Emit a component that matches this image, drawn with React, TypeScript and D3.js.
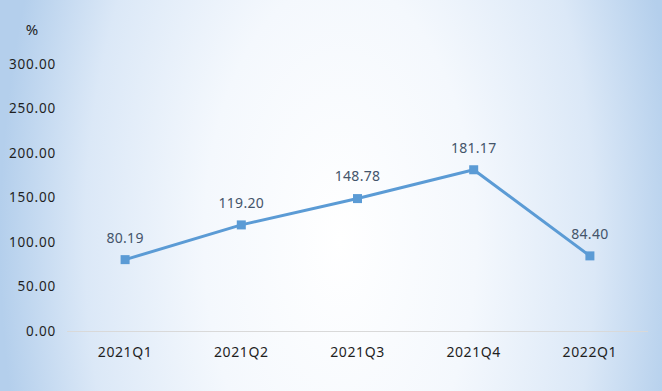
import * as d3 from "d3";
import React, { useEffect, useRef } from "react";

const quarters: string[] = ["2021Q1", "2021Q2", "2021Q3", "2021Q4", "2022Q1"];
const values: number[] = [80.19, 119.2, 148.78, 181.17, 84.4];
const yTicks: number[] = [0, 50, 100, 150, 200, 250, 300];

const W = 662;
const H = 391;

export default function App() {
  const ref = useRef<SVGSVGElement>(null);

  useEffect(() => {
    const svg = d3.select(ref.current!);
    svg.selectAll("*").remove();

    // backdrop: pale centre, light blue towards left and right edges
    const defs = svg.append("defs");
    const grad = defs.append("radialGradient")
      .attr("id", "bg")
      .attr("gradientUnits", "userSpaceOnUse")
      .attr("cx", 340).attr("cy", 240)
      .attr("r", 340)
      .attr("gradientTransform", "translate(340,240) scale(1,1.9) translate(-340,-240)");
    grad.append("stop").attr("offset", "0%").attr("stop-color", "#ffffff");
    grad.append("stop").attr("offset", "40%").attr("stop-color", "#f4f8fd");
    grad.append("stop").attr("offset", "75%").attr("stop-color", "#dbe8f7");
    grad.append("stop").attr("offset", "100%").attr("stop-color", "#b4cfec");

    svg.append("rect").attr("width", W).attr("height", H).attr("fill", "url(#bg)");

    const x = d3.scaleBand<string>().domain(quarters).range([67, 648]);
    const y = d3.scaleLinear().domain([0, 300]).range([331, 64]);

    const font = "'Noto Sans', 'Open Sans', sans-serif";

    // y axis labels
    svg.append("g").selectAll("text")
      .data(yTicks)
      .enter()
      .append("text")
      .attr("x", 56)
      .attr("y", d => y(d))
      .attr("dy", "0.35em")
      .attr("text-anchor", "end")
      .attr("font-family", font)
      .attr("font-size", 13.5)
      .attr("letter-spacing", 0.8)
      .attr("fill", "#1f1f1f")
      .text(d => d3.format(".2f")(d));

    svg.append("text")
      .attr("x", 32)
      .attr("y", 30)
      .attr("dy", "0.35em")
      .attr("text-anchor", "middle")
      .attr("font-family", font)
      .attr("font-size", 15)
      .attr("fill", "#1f1f1f")
      .text("%");

    // baseline
    svg.append("line")
      .attr("x1", 67).attr("x2", 648)
      .attr("y1", y(0) + 0.5).attr("y2", y(0) + 0.5)
      .attr("stroke", "#d9d9d9")
      .attr("stroke-width", 1);

    // x labels
    svg.append("g").selectAll("text")
      .data(quarters)
      .enter()
      .append("text")
      .attr("x", d => x(d)! + x.bandwidth() / 2)
      .attr("y", 352)
      .attr("dy", "0.35em")
      .attr("text-anchor", "middle")
      .attr("font-family", font)
      .attr("font-size", 14)
      .attr("letter-spacing", 0.6)
      .attr("fill", "#1f1f1f")
      .text(d => d);

    const cx = (i: number) => x(quarters[i])! + x.bandwidth() / 2;

    const line = d3.line<number>()
      .x((_, i) => cx(i))
      .y(d => y(d));

    svg.append("path")
      .datum(values)
      .attr("d", line)
      .attr("fill", "none")
      .attr("stroke", "#5b9bd5")
      .attr("stroke-width", 3)
      .attr("stroke-linejoin", "round");

    svg.append("g").selectAll("rect")
      .data(values)
      .enter()
      .append("rect")
      .attr("x", (_, i) => cx(i) - 4.5)
      .attr("y", d => y(d) - 4.5)
      .attr("width", 9)
      .attr("height", 9)
      .attr("fill", "#5b9bd5");

    svg.append("g").selectAll("text")
      .data(values)
      .enter()
      .append("text")
      .attr("x", (_, i) => cx(i))
      .attr("y", d => y(d) - 22)
      .attr("dy", "0.35em")
      .attr("text-anchor", "middle")
      .attr("font-family", font)
      .attr("font-size", 14)
      .attr("letter-spacing", 0.3)
      .attr("fill", "#44546a")
      .text(d => d3.format(".2f")(d));
  }, []);

  return (
    <svg ref={ref} width={W} height={H}
      style={{ position: "absolute", left: 0, top: 0, display: "block" }} />
  );
}
